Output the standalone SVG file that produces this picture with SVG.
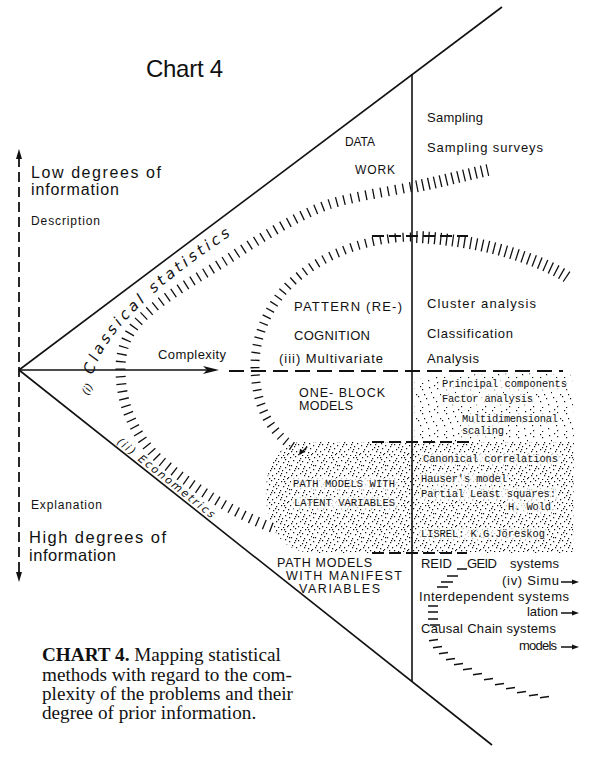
<svg xmlns="http://www.w3.org/2000/svg" width="593" height="758" viewBox="0 0 593 758">
<defs>
<style>
.sans{font-family:"Liberation Sans",Arial,sans-serif;fill:#111}
.mono{font-family:"Liberation Mono","Courier New",monospace;fill:#111;font-size:10.4px}
.hand{font-family:"DejaVu Sans",sans-serif;font-style:italic;fill:#111}
.serif{font-family:"Liberation Serif","Times New Roman",serif;fill:#111;font-size:19.2px}
.line{stroke:#111;stroke-width:1.6;fill:none}
.hatch{fill:none;stroke:#111;stroke-dasharray:1.3 6.2}
.hatchR{fill:none;stroke:#111;stroke-dasharray:1.3 4.7}
.dash{stroke:#111;stroke-width:2;fill:none;stroke-dasharray:12 5}
.tick{stroke:#111;stroke-width:1.5;fill:none}
.head{fill:#111}
.clear{fill:#fff;opacity:0.75}
</style>
<pattern id="dense" width="24" height="24" patternUnits="userSpaceOnUse">
<path fill="#111" d="M2,1h1.2v1.2h-1.2zM7,0h1.2v1.2h-1.2zM12,2h1.2v1.2h-1.2zM17,1h1.2v1.2h-1.2zM21,3h1.2v1.2h-1.2zM0,5h1.2v1.2h-1.2zM5,4h1.2v1.2h-1.2zM9,6h1.2v1.2h-1.2zM14,5h1.2v1.2h-1.2zM19,6h1.2v1.2h-1.2zM23,8h1v1.2h-1zM3,9h1.2v1.2h-1.2zM8,10h1.2v1.2h-1.2zM12,8h1.2v1.2h-1.2zM16,10h1.2v1.2h-1.2zM21,11h1.2v1.2h-1.2zM1,13h1.2v1.2h-1.2zM6,14h1.2v1.2h-1.2zM10,12h1.2v1.2h-1.2zM14,15h1.2v1.2h-1.2zM18,14h1.2v1.2h-1.2zM22,16h1.2v1.2h-1.2zM4,17h1.2v1.2h-1.2zM8,19h1.2v1.2h-1.2zM12,17h1.2v1.2h-1.2zM16,19h1.2v1.2h-1.2zM20,20h1.2v1.2h-1.2zM0,21h1.2v1.2h-1.2zM5,22h1.2v1.2h-1.2zM10,22h1.2v1.2h-1.2zM14,23h1.2v1h-1.2zM19,23h1.2v1h-1.2zM23,22h1v1.2h-1zM11,4h1.2v1.2h-1.2zM3,19h1.2v1.2h-1.2zM17,17h1.2v1.2h-1.2zM7,12h1.2v1.2h-1.2zM20,1h1.2v1.2h-1.2zM1,9h1.2v1.2h-1.2zM15,12h1.2v1.2h-1.2z"/>
</pattern>
<pattern id="sparse" width="24" height="24" patternUnits="userSpaceOnUse">
<path fill="#111" d="M2,1h1.2v1.2h-1.2zM12,2h1.2v1.2h-1.2zM21,3h1.2v1.2h-1.2zM5,4h1.2v1.2h-1.2zM14,5h1.2v1.2h-1.2zM23,8h1v1.2h-1zM8,10h1.2v1.2h-1.2zM16,10h1.2v1.2h-1.2zM1,13h1.2v1.2h-1.2zM10,12h1.2v1.2h-1.2zM18,14h1.2v1.2h-1.2zM4,17h1.2v1.2h-1.2zM12,17h1.2v1.2h-1.2zM20,20h1.2v1.2h-1.2zM5,22h1.2v1.2h-1.2zM14,23h1.2v1h-1.2z"/>
</pattern>
<path id="classPath" d="M93,375 C103,335 150,288 248,224"/>
<path id="econPath" d="M116,443 L252,551"/>
</defs>

<g id="stipple">
<path fill="url(#sparse)" d="M414,380 C430,374 520,372 572,375 L574,442 L414,442 Z"/>
<path fill="url(#dense)" d="M412,442 L300,442 C276,445 265,470 266,495 C266,525 280,550 310,553 L573,553 L574,442 Z"/>
<rect class="clear" x="440" y="378" width="129" height="12" rx="5"/>
<rect class="clear" x="440" y="393" width="95" height="12" rx="5"/>
<rect class="clear" x="460" y="413" width="100" height="12" rx="3"/>
<rect class="clear" x="460" y="425" width="46" height="12" rx="3"/>
<rect class="clear" x="291" y="478" width="106" height="12" rx="3"/>
<rect class="clear" x="292" y="497" width="105" height="12" rx="3"/>
<rect class="clear" x="421" y="453" width="139" height="12" rx="3"/>
<rect class="clear" x="419" y="473" width="90" height="12" rx="3"/>
<rect class="clear" x="419" y="488" width="139" height="12" rx="3"/>
<rect class="clear" x="506" y="501" width="47" height="12" rx="3"/>
<rect class="clear" x="419" y="528" width="128" height="12" rx="3"/>
</g>

<g id="connectors">
<line class="line" x1="19" y1="370" x2="502" y2="7"/>
<line class="line" x1="19" y1="370" x2="492" y2="745"/>
<line class="line" x1="412" y1="74" x2="412" y2="681"/>
<line x1="19" y1="157" x2="19" y2="574" stroke="#111" stroke-width="1.8" stroke-dasharray="10 5"/>
<polygon class="head" points="19,149 16,159 22,159"/>
<polygon class="head" points="19,582 16,572 22,572"/>
<line class="line" x1="19" y1="370" x2="210" y2="370"/>
<polygon class="head" points="219,370 203,366 207,370 203,374"/>
<line x1="229" y1="371" x2="563" y2="371" stroke="#111" stroke-width="2" stroke-dasharray="15 7"/>
<path class="dash" d="M372,236 H468"/>
<path class="dash" d="M372,442 H470"/>
<path class="dash" d="M372,553 H467"/>
<path class="hatchR" stroke-width="12" d="M488,170 C465,175 435,183 413,187"/>
<path class="hatch" stroke-width="10" d="M411,187 C385,192 352,197 330,204 C300,214 260,238 233,256 C200,277 160,298 138,322 C122,340 119,360 121,380 C123,410 138,440 160,460 C190,485 230,512 273,528"/>
<path class="hatchR" stroke-width="12" d="M567,277 C548,264 505,249 470,243 C445,239 427,237 413,237"/>
<path class="hatch" stroke-width="9" d="M411,237 C390,237 360,243 340,252 C315,262 290,280 278,298 C262,320 255,345 255,365 C255,392 262,415 275,430 C283,440 290,445 297,449"/>
<path class="tick" d="M307,447 L300,454"/>
<polygon class="head" points="299,455 300,449 305,452"/>
<path class="tick" d="M457,569h10M447,576h11M441,582h12M437,587h11M428,606h10M428,612h10M428,619h10M430,625h10M429,640.8l9,-1.2M433,647.8l9,-1.2M439,653.8l9,-1.2M446,659.8l9,-1.2M454,664.8l9,-1.2M463,669.8l9,-1.2M473,674.8l9,-1.2M484,679.8l9,-1.2M495,684.8l9,-1.2M506,688.8l9,-1.2M517,692.8l9,-1.2M529,695.8l9,-1.2M540,697.8l9,-1.2"/>
<line class="tick" x1="561" y1="582" x2="573" y2="582" stroke-width="1.2"/>
<polygon class="head" points="579,582 572,579.5 572,584.5"/>
<line class="tick" x1="561" y1="613" x2="573" y2="613" stroke-width="1.2"/>
<polygon class="head" points="579,613 572,610.5 572,615.5"/>
<line class="tick" x1="561" y1="647" x2="573" y2="647" stroke-width="1.2"/>
<polygon class="head" points="579,647 572,644.5 572,649.5"/>
</g>

<g id="title"><text class="sans" x="146" y="77" font-size="24" textLength="77">Chart 4</text></g>

<g id="axis-labels">
<text class="sans" x="31" y="178" font-size="16" textLength="130">Low degrees of</text>
<text class="sans" x="31" y="195" font-size="16" textLength="88">information</text>
<text class="sans" x="31" y="225" font-size="12" textLength="69">Description</text>
<text class="sans" x="31" y="509" font-size="12" textLength="71">Explanation</text>
<text class="sans" x="29" y="543" font-size="16.5" textLength="137">High degrees of</text>
<text class="sans" x="29" y="561" font-size="16.5" textLength="87">information</text>
<text class="sans" x="158" y="359" font-size="13" textLength="68">Complexity</text>
</g>

<g id="hand-labels">
<text class="hand" font-size="15" letter-spacing="3.3"><textPath href="#classPath">Classical statistics</textPath></text>
<text class="hand" font-size="11" letter-spacing="1.8"><textPath href="#econPath">(ii) Econometrics</textPath></text>
<text class="hand" font-size="11" transform="translate(88,396) rotate(-62)">(i)</text>
</g>

<g id="node-datawork">
<text class="sans" x="345" y="146" font-size="12" textLength="30">DATA</text>
<text class="sans" x="355" y="174" font-size="12" textLength="40">WORK</text>
</g>
<g id="node-sampling">
<text class="sans" x="427" y="122" font-size="13" textLength="56">Sampling</text>
<text class="sans" x="427" y="152" font-size="13" textLength="116">Sampling  surveys</text>
</g>
<g id="node-pattern">
<text class="sans" x="294" y="311" font-size="13" textLength="108">PATTERN (RE-)</text>
<text class="sans" x="294" y="340" font-size="13" textLength="76">COGNITION</text>
<text class="sans" x="279" y="363" font-size="13" textLength="104">(iii) Multivariate</text>
</g>
<g id="node-cluster">
<text class="sans" x="427" y="308" font-size="13" textLength="109">Cluster  analysis</text>
<text class="sans" x="427" y="338" font-size="13" textLength="86">Classification</text>
<text class="sans" x="427" y="363" font-size="13" textLength="52">Analysis</text>
</g>
<g id="node-oneblock">
<text class="sans" x="299" y="397" font-size="12.5" textLength="86">ONE- BLOCK</text>
<text class="sans" x="299" y="410" font-size="12.5" textLength="54">MODELS</text>
</g>
<g id="node-principal">
<text class="mono" x="442" y="387" textLength="125">Principal components</text>
<text class="mono" x="442" y="402" textLength="91">Factor analysis</text>
<text class="mono" x="462" y="422" textLength="96">Multidimensional</text>
<text class="mono" x="462" y="434" textLength="42">scaling</text>
</g>
<g id="node-latent">
<text class="mono" x="293" y="487" textLength="102">PATH MODELS WITH</text>
<text class="mono" x="294" y="506" textLength="101">LATENT VARIABLES</text>
</g>
<g id="node-canonical">
<text class="mono" x="423" y="462" textLength="135">Canonical correlations</text>
<text class="mono" x="421" y="482" textLength="86">Hauser's model</text>
<text class="mono" x="421" y="497" textLength="135">Partial Least squares:</text>
<text class="mono" x="508" y="510" textLength="43">H. Wold</text>
<text class="mono" x="421" y="537" textLength="124">LISREL: K.G.Jöreskog</text>
</g>
<g id="node-manifest">
<text class="sans" x="277" y="567" font-size="12.5" textLength="95">PATH MODELS</text>
<text class="sans" x="286" y="580" font-size="12.5" textLength="116">WITH  MANIFEST</text>
<text class="sans" x="299" y="593" font-size="12.5" textLength="81">VARIABLES</text>
</g>
<g id="node-systems">
<text class="sans" x="421" y="568" font-size="13" textLength="31">REID</text>
<text class="sans" x="467" y="568" font-size="13" textLength="30">GEID</text>
<text class="sans" x="510" y="568" font-size="13" textLength="49">systems</text>
<text class="sans" x="502" y="585" font-size="13" textLength="57">(iv) Simu</text>
<text class="sans" x="419" y="601" font-size="13" textLength="150">Interdependent  systems</text>
<text class="sans" x="527" y="616" font-size="13" textLength="31">lation</text>
<text class="sans" x="421" y="633" font-size="13" textLength="135">Causal Chain systems</text>
<text class="sans" x="519" y="650" font-size="13" textLength="38">models</text>
</g>

<g id="caption">
<text class="serif" x="42" y="661"><tspan font-weight="bold">CHART 4.</tspan> Mapping statistical</text>
<text class="serif" x="42" y="681">methods with regard to the com-</text>
<text class="serif" x="42" y="700">plexity of the problems and their</text>
<text class="serif" x="42" y="719">degree of prior information.</text>
</g>
</svg>
